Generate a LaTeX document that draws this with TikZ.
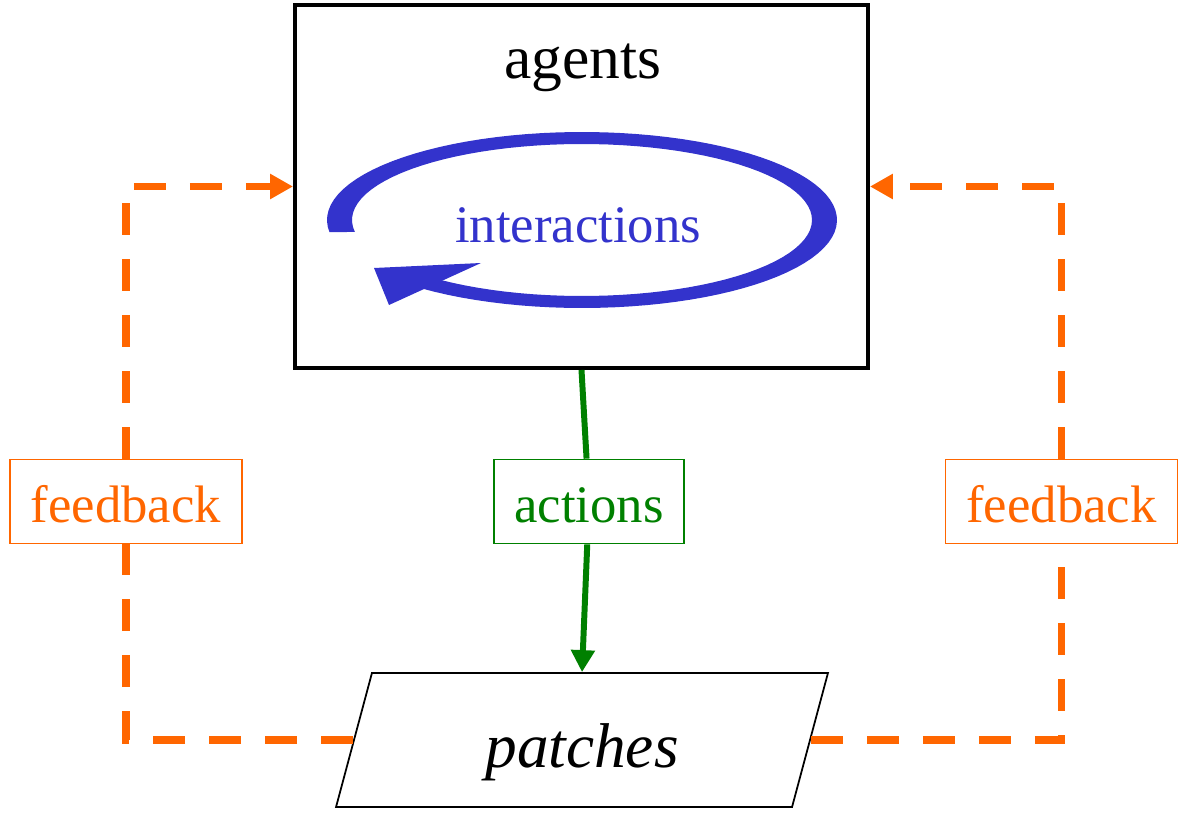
\documentclass[tikz,border=0pt]{standalone}
\usepackage{fontspec}
\setmainfont{Liberation Serif}
\usetikzlibrary{arrows.meta,shapes.geometric}
\definecolor{loopblue}{HTML}{3333CC}
\definecolor{feedorange}{HTML}{FF6600}
\definecolor{actgreen}{HTML}{008000}

\begin{document}
\begin{tikzpicture}
	[x=0.02cm, y=-0.02cm,
	main box/.style={rectangle, draw, line width=2.3pt, minimum width=11.46cm, minimum height=7.26cm},
	tag node/.style={rectangle, draw, fill=white, line width=1pt, minimum height=1.68cm, text height=0.84cm, text depth=0pt, font=\fontsize{30}{36}\selectfont},
	feed node/.style={tag node, draw=feedorange, text=feedorange, minimum width=4.64cm},
	feed line/.style={draw=feedorange, line width=4.5pt, dash pattern=on 0.64cm off 0.48cm},
	feed tip/.style={-{Triangle[length=0.46cm, width=0.48cm]}},
	act line/.style={draw=actgreen, line width=3.4pt}]
	\useasboundingbox (0,0) rectangle (1179,814);

	\node[main box] (agents) at (581.5,186.5) {};
	\node[font=\fontsize{35}{42}\selectfont, anchor=base] (agentstitle) at (583,79) {agents};

	%interaction loop inside the agents box
	\fill[loopblue] plot[domain=172:489, samples=90, variable=\t] ({582+255*cos(\t)}, {220+88*sin(\t)})
		-- plot[domain=495:171, samples=90, variable=\t] ({582+230*cos(\t)}, {220+76*sin(\t)}) -- cycle;
	\fill[loopblue] (374,268) -- (481,263) -- (389,305) -- cycle;
	\node[font=\fontsize{30}{36}\selectfont, text=loopblue, anchor=base] (interactions) at (578,242) {interactions};

	\node[feed node] (fbleft) at (126,501.5) {feedback};
	\node[feed node] (fbright) at (1061.5,501.5) {feedback};
	\node[tag node, draw=actgreen, text=actgreen, minimum width=3.8cm] (actions) at (589,501.5) {actions};

	\node[draw, trapezium, trapezium left angle=75, trapezium right angle=105, trapezium stretches body,
		minimum width=9.84cm, inner ysep=0.8cm, line width=1pt,
		font=\itshape\fontsize{36}{43}\selectfont, text height=1.08cm, text depth=0pt] (patches) at (582,740) {patches};

	%actions
	\draw[act line] (agents.south) -- (actions);
	\draw[act line, -{Triangle[length=0.44cm, width=0.46cm]}] (actions) -- (patches.north);

	%feedback, left and right
	\draw[feed line] (patches.west) -| (fbleft);
	\draw[feed line, feed tip] (fbleft) |- (agents.west);
	\draw[feed line] (patches.east) -| (fbright);
	\draw[feed line, feed tip] (fbright) |- (agents.east);
\end{tikzpicture}
\end{document}
